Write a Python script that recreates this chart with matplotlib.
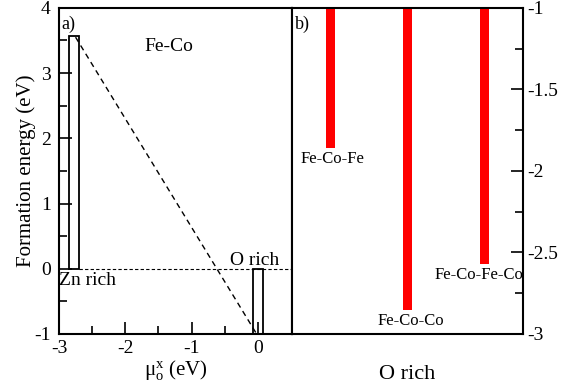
import matplotlib
matplotlib.use('Agg')
import matplotlib.pyplot as plt
from matplotlib.ticker import MultipleLocator, FixedLocator

plt.rcParams['font.family'] = ['Liberation Serif', 'DejaVu Serif']
plt.rcParams['mathtext.fontset'] = 'stix'
plt.rcParams['axes.unicode_minus'] = False

# panel a) stability boxes
box_labels = ['Zn rich', 'O rich']
box_mu = [-2.775, 0.0]
box_width = [0.15, 0.14]
box_bottom = [0.0, -1.0]
box_top = [3.57, 0.0]
line_mu = [-2.75, -0.02]
line_e = [3.55, -1.0]

# panel b) O rich formation energies
configs = ['Fe-Co-Fe', 'Fe-Co-Co', 'Fe-Co-Fe-Co']
config_pos = [1, 3, 5]
config_energy = [-1.86, -2.85, -2.57]
label_shift = [0.05, 0.1, -0.15]

fig = plt.figure(figsize=(5.7, 3.92), dpi=100)
ax1 = fig.add_axes([0.1035, 0.148, 0.409, 0.832])
ax2 = fig.add_axes([0.5123, 0.148, 0.405, 0.832])

for ax in (ax1, ax2):
    for s in ax.spines.values():
        s.set_linewidth(1.5)

# a)
ax1.bar(box_mu, [t - b for t, b in zip(box_top, box_bottom)], width=box_width,
        bottom=box_bottom, fill=False, edgecolor='black', linewidth=1.3)
ax1.plot(line_mu, line_e, 'k--', lw=1.0, dashes=(4, 3))
ax1.plot([box_mu[0] + box_width[0] / 2, 0.515], [0, 0], 'k--', lw=0.8, dashes=(3, 2))
ax1.set_xlim(-3, 0.515)
ax1.set_ylim(-1, 4)
ax1.xaxis.set_major_locator(MultipleLocator(1))
ax1.xaxis.set_minor_locator(FixedLocator([-2.5, -1.5, -0.5]))
ax1.yaxis.set_major_locator(MultipleLocator(1))
ax1.yaxis.set_minor_locator(MultipleLocator(0.5))
ax1.tick_params(which='both', direction='in', labelsize=14, width=1.2, top=False, right=False)
ax1.tick_params(which='major', length=9)
ax1.tick_params(which='minor', length=6)
ax1.tick_params(axis='y', pad=6)
ax1.tick_params(axis='x', pad=4)
ax1.set_ylabel('Formation energy (eV)', fontsize=15, labelpad=-1)
ax1.set_xlabel(r'$\mathregular{\mu_o^x}$ (eV)', fontsize=15, labelpad=1)
ax1.text(0.012, 0.975, 'a)', transform=ax1.transAxes, fontsize=13, va='top')
ax1.text(-1.35, 3.4, 'Fe-Co', fontsize=14, ha='center', va='center')
ax1.text(-3.0, -0.05, box_labels[0], fontsize=14, ha='left', va='top')
ax1.text(-0.42, 0.0, box_labels[1], fontsize=14, ha='left', va='bottom')

# b)
ax2.bar(config_pos, [e + 1 for e in config_energy], width=0.23, bottom=-1,
        color='red')
ax2.set_xlim(0, 6)
ax2.set_ylim(-3, -1)
ax2.set_xticks([])
ax2.yaxis.tick_right()
ax2.yaxis.set_major_locator(MultipleLocator(0.5))
ax2.yaxis.set_minor_locator(MultipleLocator(0.25))
ax2.tick_params(which='both', direction='in', labelsize=14, width=1.2)
ax2.tick_params(which='major', length=9)
ax2.tick_params(which='minor', length=6)
ax2.yaxis.set_major_formatter(plt.FuncFormatter(lambda v, p: ('%g' % v)))
for x, e, name, dx in zip(config_pos, config_energy, configs, label_shift):
    ax2.text(x + dx, e - 0.02, name, fontsize=12, ha='center', va='top')
ax2.text(0.012, 0.975, 'b)', transform=ax2.transAxes, fontsize=13, va='top')
ax2.set_xlabel('O rich', fontsize=16, labelpad=22)

fig.savefig('out.png', dpi=100)
